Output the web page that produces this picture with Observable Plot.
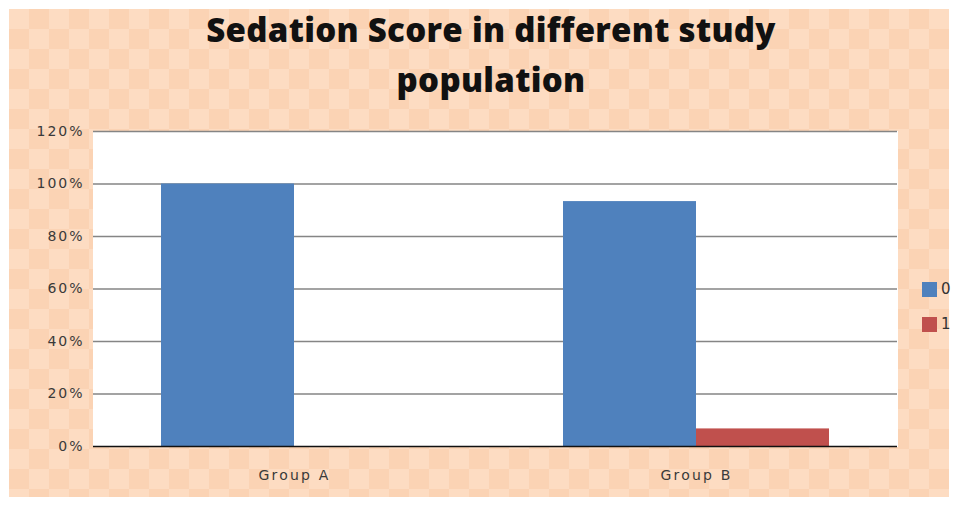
<!DOCTYPE html>
<html>
<head>
<meta charset="utf-8">
<script src="https://cdn.jsdelivr.net/npm/d3@7"></script>
<script src="https://cdn.jsdelivr.net/npm/@observablehq/plot@0.6"></script>
<style>
  html, body { margin: 0; padding: 0; background: #ffffff; }
  #page { position: relative; width: 958px; height: 506px; overflow: hidden; background: #ffffff; }
  #panel {
    position: absolute; left: 9px; top: 9px; width: 940px; height: 488px;
    background: repeating-conic-gradient(#fbd3b4 0 25%, #fddcc2 0 50%) 0 0 / 40px 40px;
  }
  #title {
    position: absolute; left: 0; top: 5px; width: 982px; text-align: center;
    font-family: "Open Sans", Lato, sans-serif; font-weight: 800; font-size: 33px;
    letter-spacing: 0.3px; font-variant-ligatures: none;
    line-height: 50px; color: #111;
  }
  #chart { position: absolute; left: 0; top: 110px; }
  #chart g[aria-label="y-axis tick label"] text { letter-spacing: 2px; }
  #chart g[aria-label="fx-axis tick label"] text { letter-spacing: 2.2px; }
  .leg { position: absolute; font-family: "DejaVu Sans", sans-serif; font-size: 15px; color: #333; }
  .leg span.sw { position: absolute; width: 15px; height: 15px; left: 0; top: 0; }
  .leg span.lb { position: absolute; left: 19px; top: -2px; }
</style>
</head>
<body>
<div id="page">
  <div id="panel"></div>
  <div id="title">Sedation Score in different study<br>population</div>
  <div id="chart"></div>
  <div id="legend"></div>
</div>
<script>
const groups = ["Group A", "Group B"];
const scores = ["0", "1"];
const score0 = [1.0, 0.933];
const score1 = [0.0, 0.067];
const colors = ["#4f81bd", "#c0504d"];
const yTicks = [0, 0.2, 0.4, 0.6, 0.8, 1.0, 1.2];

const data = [];
groups.forEach((g, i) => {
  data.push({group: g, score: scores[0], value: score0[i]});
  data.push({group: g, score: scores[1], value: score1[i]});
});

const chart = Plot.plot({
  width: 958,
  height: 390,
  marginTop: 21,
  marginBottom: 54,
  marginLeft: 93,
  marginRight: 61,
  style: {background: "transparent", fontFamily: "DejaVu Sans, sans-serif", fontSize: "13px", color: "#333"},
  fx: {domain: groups, padding: 0, label: null},
  x: {domain: scores, paddingInner: 0, paddingOuter: 0.51, axis: null},
  y: {domain: [0, 1.2], label: null},
  color: {domain: scores, range: colors},
  marks: [
    Plot.frame({fill: "white", stroke: "white", strokeWidth: 1}),
    Plot.ruleY(yTicks.filter(d => d > 0), {stroke: "#858585", strokeWidth: 1.6}),
    Plot.barY(data, {fx: "group", x: "score", y: "value", fill: "score"}),
    Plot.ruleY([0], {stroke: "#111", strokeWidth: 1.6}),
    Plot.axisY(yTicks, {tickSize: 0, tickPadding: 9, tickFormat: d => Math.round(d * 100) + "%", fontSize: 14, fill: "#3a3a3a"}),
    Plot.axisFx({anchor: "bottom", tickSize: 0, tickPadding: 24, label: null, fontSize: 14, fill: "#3a3a3a"})
  ]
});
document.getElementById("chart").appendChild(chart);

const legend = document.getElementById("legend");
scores.forEach((s, i) => {
  const d = document.createElement("div");
  d.className = "leg";
  d.style.left = "922px";
  d.style.top = (282 + i * 35) + "px";
  d.innerHTML = `<span class="sw" style="background:${colors[i]}"></span><span class="lb">${s}</span>`;
  legend.appendChild(d);
});
</script>
</body>
</html>
